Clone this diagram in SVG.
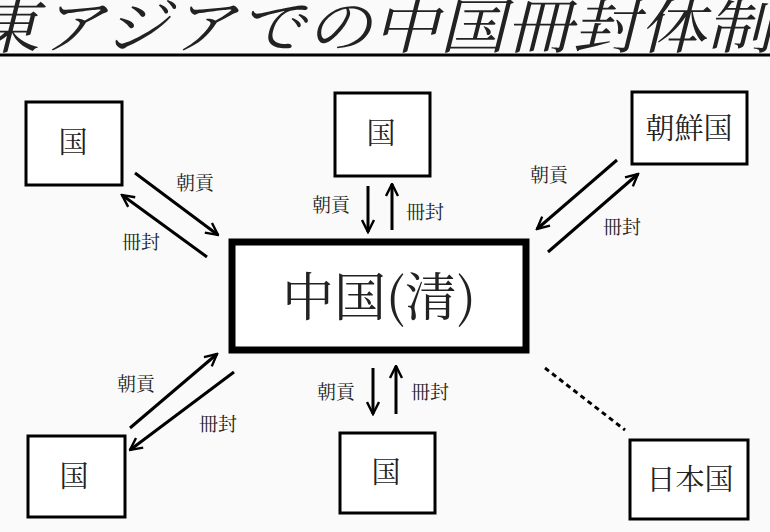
<svg xmlns="http://www.w3.org/2000/svg" width="770" height="532" viewBox="0 0 770 532">
<style>
.b{fill:#fff;stroke:#000;stroke-width:3}
.t{font-family:"Noto Serif CJK JP","Noto Sans CJK JP","Noto Sans CJK SC",serif;fill:#222}
.l{font-size:19px}
.n{font-size:29px}
.a{stroke:#000;stroke-width:3;fill:none}
</style>
<defs>
<marker id="h" viewBox="0 0 10 10" refX="9" refY="5" markerWidth="5" markerHeight="5" orient="auto" markerUnits="strokeWidth">
<path d="M1,1 L9,5 L1,9" fill="none" stroke="#000" stroke-width="1.6"/>
</marker>
</defs>
<rect width="770" height="532" fill="#fafafa"/>
<g id="title">
<text class="t" x="0" y="48" font-size="60" fill="#000" textLength="800" lengthAdjust="spacingAndGlyphs" transform="translate(-15,0) skewX(-14)">東アジアでの中国冊封体制</text>
<line x1="0" y1="55" x2="770" y2="55" stroke="#000" stroke-width="3"/>
</g>
<g id="center"><rect x="232" y="242" width="294" height="108" fill="#fff" stroke="#000" stroke-width="7"/><text class="t" x="379" y="316" font-size="52" text-anchor="middle">中国(清)</text></g>
<g id="tl"><rect class="b" x="26" y="102" width="96" height="83"/><text class="t n" x="73" y="153" text-anchor="middle">国</text></g>
<g id="tc"><rect class="b" x="335" y="93" width="95" height="83"/><text class="t n" x="381" y="144" text-anchor="middle">国</text></g>
<g id="tr"><rect class="b" x="632" y="92" width="115" height="72"/><text class="t n" x="689" y="139" text-anchor="middle">朝鮮国</text></g>
<g id="bl"><rect class="b" x="28" y="436" width="97" height="81"/><text class="t n" x="74" y="487" text-anchor="middle">国</text></g>
<g id="bc"><rect class="b" x="340" y="433" width="95" height="80"/><text class="t n" x="386" y="483" text-anchor="middle">国</text></g>
<g id="br"><rect class="b" x="630" y="440" width="118" height="79"/><text class="t n" x="690" y="490" text-anchor="middle">日本国</text></g>
<g id="connectors">
<line class="a" x1="135" y1="173" x2="218" y2="235" marker-end="url(#h)"/>
<line class="a" x1="207" y1="257" x2="122" y2="195" marker-end="url(#h)"/>
<line class="a" x1="368" y1="186" x2="368" y2="232" marker-end="url(#h)"/>
<line class="a" x1="392" y1="230" x2="392" y2="184" marker-end="url(#h)"/>
<line class="a" x1="617" y1="160" x2="537" y2="229" marker-end="url(#h)"/>
<line class="a" x1="548" y1="252" x2="638" y2="174" marker-end="url(#h)"/>
<line class="a" x1="130" y1="428" x2="217" y2="354" marker-end="url(#h)"/>
<line class="a" x1="234" y1="372" x2="130" y2="450" marker-end="url(#h)"/>
<line class="a" x1="373" y1="368" x2="373" y2="414" marker-end="url(#h)"/>
<line class="a" x1="396" y1="414" x2="396" y2="366" marker-end="url(#h)"/>
<line x1="545" y1="368" x2="625" y2="430" stroke="#000" stroke-width="3" stroke-dasharray="5,4"/>
</g>
<g id="labels">
<text class="t l" x="176" y="190">朝貢</text>
<text class="t l" x="122" y="249">冊封</text>
<text class="t l" x="312" y="212">朝貢</text>
<text class="t l" x="406" y="219">冊封</text>
<text class="t l" x="530" y="182">朝貢</text>
<text class="t l" x="603" y="234">冊封</text>
<text class="t l" x="117" y="391">朝貢</text>
<text class="t l" x="199" y="431">冊封</text>
<text class="t l" x="317" y="399">朝貢</text>
<text class="t l" x="411" y="399">冊封</text>
</g>
</svg>
